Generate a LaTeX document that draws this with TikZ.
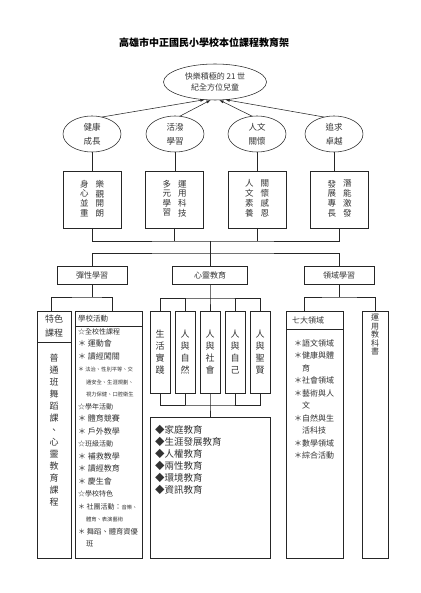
\documentclass[tikz,border=0pt]{standalone}
\usepackage{fontspec}
\setmainfont{Noto Sans CJK TC}
\usetikzlibrary{shapes.geometric,arrows.meta}

\newcommand{\vcol}[1]{\begin{tabular}{@{}c@{}}#1\end{tabular}}

\begin{document}
\begin{tikzpicture}
[
    x=1pt, y=-1pt,
    every node/.style={inner sep=0pt, outer sep=0pt, text=black!80},
    line/.style={draw=black!85, line width=0.55pt},
    goal/.style={ellipse, line, minimum width=58pt, minimum height=36pt, align=center, font=\fontsize{8.5}{14}\selectfont},
    aimbox/.style={rectangle, line, minimum width=58pt, minimum height=57pt, font=\fontsize{8.5}{9}\selectfont},
    partbox/.style={rectangle, line, minimum width=70pt, minimum height=18pt, font=\fontsize{8}{10}\selectfont},
    tallbox/.style={rectangle, line, minimum height=247pt},
    heartbox/.style={rectangle, line, minimum width=20pt, minimum height=82pt, align=center, font=\fontsize{9}{12}\selectfont},
]
\useasboundingbox (0,0) rectangle (420,593);

% title and goal
\node [font=\fontsize{10}{12}\selectfont\bfseries, text=black] (title) at (204,43) {高雄市中正國民小學校本位課程教育架};
\node [goal, minimum width=103pt, font=\fontsize{8}{11.5}\selectfont] (top) at (215,82) {快樂積極的 21 世\\紀全方位兒童};

% four aims
\node [goal] (e1) at (92,134) {健康\\成長};
\node [goal] (e2) at (175,134) {活潑\\學習};
\node [goal] (e3) at (257,134) {人文\\關懷};
\node [goal] (e4) at (334,134) {追求\\卓越};

\draw [line, -{Latex[length=4.5pt,width=3pt]}] (e1.60) -- (top.240);
\draw [line, -{Latex[length=4.5pt,width=3pt]}] (e2.75) -- (top.257);
\draw [line, -{Latex[length=4.5pt,width=3pt]}] (e3.105) -- (top.283);
\draw [line, -{Latex[length=4.5pt,width=3pt]}] (e4.120) -- (top.300);

\node [aimbox] (b1) at (92,199.5) {\vcol{身\\心\\並\\重}\hspace{7pt}\vcol{樂\\觀\\開\\朗}};
\node [aimbox] (b2) at (174.5,199.5) {\vcol{多\\元\\學\\習}\hspace{7pt}\vcol{運\\用\\科\\技}};
\node [aimbox] (b3) at (257,199.5) {\vcol{人\\文\\素\\養}\hspace{7pt}\vcol{關\\懷\\感\\恩}};
\node [aimbox] (b4) at (339.5,199.5) {\vcol{發\\展\\專\\長}\hspace{7pt}\vcol{潛\\能\\激\\發}};

\draw [line] (e1.south) -- (b1.north);
\draw [line] (e2.south) -- (e2.south |- b2.north);
\draw [line] (e3.south) -- (b3.north);
\draw [line] (e4.south) -- (e4.south |- b4.north);

% three parts
\coordinate (busA) at (210,241);
\coordinate (busB) at (210,253);
\node [partbox] (flex) at (92,275) {彈性學習};
\node [partbox, minimum width=75pt] (heart) at (210,275) {心靈教育};
\node [partbox] (field) at (339,275) {領域學習};

\draw [line] (b1.south) |- (busA) -| (b4.south);
\draw [line] (b2.south) -- (b2.south |- busA);
\draw [line] (b3.south) -- (b3.south |- busA);
\draw [line] (busA) -- (busB);
\draw [line] (flex.north) |- (busB) -| (field.north);
\draw [line] (busB) -- (heart.north);

% flexible learning
\coordinate (flexbus) at (92,297);
\node [tallbox, minimum width=34pt] (feature) at (54,434.5) {};
\node [tallbox, minimum width=67pt] (school) at (108.5,434.5) {};
\draw [line] (flex.south) -- (flexbus);
\draw [line] ([xshift=-3pt]feature.north) |- (flexbus) -| ([xshift=4pt]school.north);
\draw [line] ([yshift=-31pt]feature.north west) -- ([yshift=-31pt]feature.north east);
\draw [line] ([yshift=-15pt]school.north west) -- ([yshift=-15pt]school.north east);
\node [align=center, font=\fontsize{9}{14}\selectfont] (featurehead) at (54,326) {特色\\課程};
\node [align=center, font=\fontsize{9}{12}\selectfont] (featuretext) at (54,430)
    {普\\通\\班\\舞\\蹈\\課\\、\\心\\靈\\教\\育\\課\\程};
\node [anchor=west, font=\fontsize{7.5}{9}\selectfont] (schoolhead) at (78,319) {學校活動};
\node [anchor=north west, align=left, font=\fontsize{8}{12.5}\selectfont] (schooltext) at (78,328.5)
    {{\fontsize{7}{12.5}\selectfont ☆全校性課程}\\
     ＊ 運動會\\
     ＊ 讀經闖關\\
     {\fontsize{6}{12.5}\selectfont ＊ }{\fontsize{5.3}{12.5}\selectfont 法治、性別平等、交}\\
     \hspace{8pt}{\fontsize{5.3}{12.5}\selectfont 通安全、生涯規劃、}\\
     \hspace{8pt}{\fontsize{5.3}{12.5}\selectfont 視力保健、口腔衛生}\\
     {\fontsize{7}{12.5}\selectfont ☆學年活動}\\
     ＊ 體育競賽\\
     ＊ 戶外教學\\
     {\fontsize{7}{12.5}\selectfont ☆班級活動}\\
     ＊ 補救教學\\
     ＊ 讀經教育\\
     ＊ 慶生會\\
     {\fontsize{7}{12.5}\selectfont ☆學校特色}\\
     {\fontsize{7}{12.5}\selectfont ＊ 社團活動：}{\fontsize{5.3}{12.5}\selectfont 音樂、}\\
     \hspace{8pt}{\fontsize{5.3}{12.5}\selectfont 體育、表演藝術}\\
     {\fontsize{7.3}{12.5}\selectfont ＊ 舞蹈、體育資優}\\
     \hspace{8pt}{\fontsize{7.3}{12.5}\selectfont 班}};

% heart education
\coordinate (heartbus) at (210,298);
\coordinate (heartbus2) at (210,405);
\node [heartbox] (h1) at (160,352) {生\\活\\實\\踐};
\node [heartbox] (h2) at (185,352) {人\\與\\自\\然};
\node [heartbox] (h3) at (210,352) {人\\與\\社\\會};
\node [heartbox] (h4) at (235,352) {人\\與\\自\\己};
\node [heartbox] (h5) at (260,352) {人\\與\\聖\\賢};
\draw [line] (heart.south) -- (heartbus) -- (h3.north);
\draw [line] (h1.north) |- (heartbus) -| (h5.north);
\draw [line] (h2.north) -- (h2.north |- heartbus);
\draw [line] (h4.north) -- (h4.north |- heartbus);
\node [rectangle, line, minimum width=120pt, minimum height=141pt] (heartlist) at (210,487.5) {};
\draw [line] (h1.south) |- (heartbus2) -| (h5.south);
\draw [line] (h2.south) -- (h2.south |- heartbus2);
\draw [line] (h4.south) -- (h4.south |- heartbus2);
\draw [line] (h3.south) -- (heartbus2) -- (heartlist.north);
\node [anchor=north west, align=left, font=\fontsize{9.5}{12}\selectfont] (hearttext) at (155,425)
    {◆家庭教育\\◆生涯發展教育\\◆人權教育\\◆兩性教育\\◆環境教育\\◆資訊教育};

% field learning
\coordinate (fieldbus) at (339,297);
\node [tallbox, minimum width=57pt] (seven) at (314.5,434.5) {};
\node [tallbox, minimum width=26pt] (book) at (375,434.5) {};
\draw [line] (field.south) -- (fieldbus);
\draw [line] ([xshift=-10pt]seven.north) |- (fieldbus) -| (book.north);
\draw [line] ([yshift=-18pt]seven.north west) -- ([yshift=-18pt]seven.north east);
\node [anchor=west, font=\fontsize{8}{10}\selectfont] (sevenhead) at (292,320.5) {七大領域};
\node [anchor=north west, align=left, font=\fontsize{8}{12.5}\selectfont] (seventext) at (294,339.5)
    {＊語文領域\\＊健康與體\\\hspace{8pt}育\\＊社會領域\\＊藝術與人\\\hspace{8pt}文\\＊自然與生\\\hspace{8pt}活科技\\＊數學領域\\＊綜合活動};
\node [anchor=north, align=center, font=\fontsize{8}{8.5}\selectfont] (booktext) at (375,314) {運\\用\\教\\科\\書};

\end{tikzpicture}
\end{document}
